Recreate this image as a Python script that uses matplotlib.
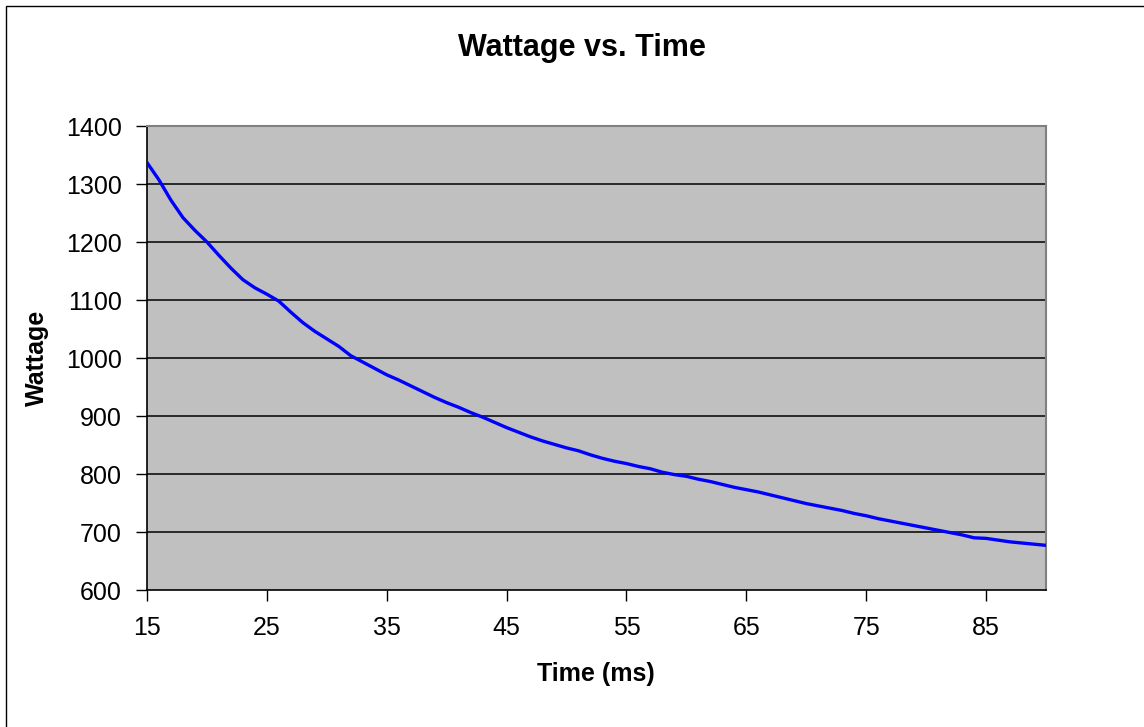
import matplotlib
matplotlib.use("Agg")
import matplotlib.pyplot as plt
from matplotlib.patches import Rectangle

# time in ms and wattage
time_ms = list(range(15, 91))
wattage = [1337, 1307, 1272, 1242, 1220, 1200, 1177, 1155, 1135, 1121,
           1110, 1098, 1079, 1061, 1046, 1033, 1020, 1004, 993, 982,
           971, 962, 952, 942, 932, 923, 915, 906, 898, 889,
           880, 872, 864, 857, 851, 845, 840, 833, 827, 822,
           818, 813, 809, 803, 799, 796, 791, 787, 782, 777,
           773, 769, 764, 759, 754, 749, 745, 741, 737, 732,
           728, 723, 719, 715, 711, 707, 703, 699, 695, 690,
           689, 686, 683, 681, 679, 677]

x_ticks = [15, 25, 35, 45, 55, 65, 75, 85]
y_ticks = [600, 700, 800, 900, 1000, 1100, 1200, 1300, 1400]

plt.rcParams['font.family'] = ['Liberation Sans', 'DejaVu Sans']

W, H = 1144, 727
fig = plt.figure(figsize=(W / 100, H / 100), dpi=100)
ax = fig.add_axes([147 / W, 1 - 590 / H, (1046 - 147) / W, (590 - 126) / H])

ax.set_facecolor('#C0C0C0')
ax.plot(time_ms, wattage, color='#0000FF', linewidth=2.4, zorder=3)

ax.set_xlim(15, 90)
ax.set_ylim(600, 1400)
ax.set_xticks(x_ticks)
ax.set_yticks(y_ticks)
for y in y_ticks[1:-1]:
    ax.axhline(y, color='black', linewidth=1.1, zorder=1)

ax.tick_params(axis='both', direction='out', length=8, width=1, labelsize=18, color='black')
ax.tick_params(axis='x', pad=11)
ax.tick_params(axis='y', pad=10)

for side in ['left', 'bottom']:
    ax.spines[side].set_color('black')
    ax.spines[side].set_linewidth(1.2)
for side in ['top', 'right']:
    ax.spines[side].set_color('#808080')
    ax.spines[side].set_linewidth(1.5)

fig.text(582 / W, 1 - 48 / H, 'Wattage vs. Time', ha='center', va='center',
         fontsize=22, fontweight='bold')
fig.text(596 / W, 1 - 674 / H, 'Time (ms)', ha='center', va='center',
         fontsize=18, fontweight='bold')
fig.text(37 / W, 1 - 358 / H, 'Wattage', ha='center', va='center',
         fontsize=18, fontweight='bold', rotation=90)

# outer chart border (cut off at right and bottom in the original)
fig.patches.append(Rectangle((6 / W, -0.1), 1.2, 1 - 6 / H + 0.1,
                             transform=fig.transFigure, fill=False,
                             edgecolor='black', linewidth=1.0))

fig.savefig('out.png', dpi=100)
